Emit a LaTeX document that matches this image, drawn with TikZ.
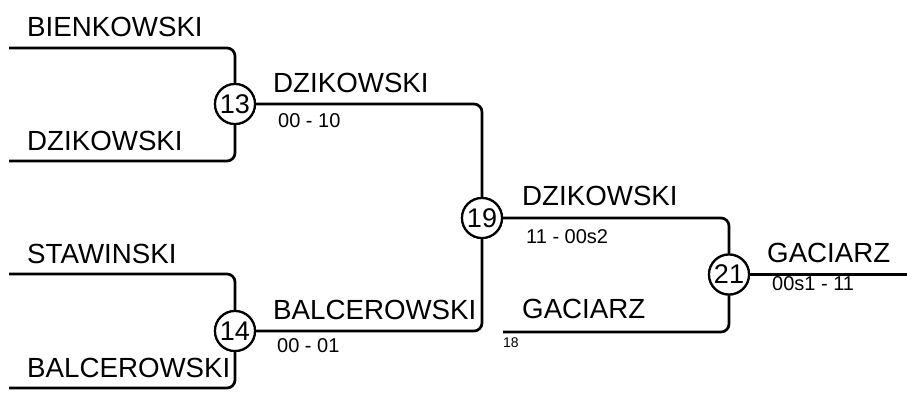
\documentclass[tikz,border=0pt]{standalone}
\usepackage{fontspec}
\setmainfont{Liberation Sans}
\usetikzlibrary{positioning}

\begin{document}
\begin{tikzpicture}[
    x=1pt, y=-1pt,
    bracket/.style={line width=2.7pt, rounded corners=8pt},
    match/.style={circle, draw, fill=white, line width=2.2pt, minimum size=40pt, inner sep=0pt, font=\fontsize{27}{27}\selectfont},
    player/.style={anchor=base west, inner sep=0pt, font=\fontsize{27.7}{30}\selectfont},
    score/.style={anchor=base west, inner sep=0pt, font=\fontsize{20}{22}\selectfont},
    seed/.style={anchor=base west, inner sep=0pt, font=\fontsize{14}{16}\selectfont},
]
\useasboundingbox (0,0) rectangle (907,392);

% === Partidos ===
\node[match] (m13) at (235,104) {13};
\node[match] (m14) at (235,331) {14};
\node[match] (m19) at (482,218) {19};
\node[match] (m21) at (729,274.5) {21};

% Extremos libres
\coordinate (bienkowski) at (9,48);
\coordinate (dzikowski) at (9,161);
\coordinate (stawinski) at (9,274);
\coordinate (balcerowski) at (9,388);
\coordinate (gaciarz) at (503,332);
\coordinate (final) at (907,274.5);

% === Líneas del cuadro ===
\draw[bracket] (bienkowski) -| (m13.north);
\draw[bracket] (dzikowski) -| (m13.south);
\draw[bracket] (stawinski) -| (m14.north);
\draw[bracket] (balcerowski) -| (m14.south);
\draw[bracket] (m13.east) -| (m19.north);
\draw[bracket] (m14.east) -| (m19.south);
\draw[bracket] (m19.east) -| (m21.north);
\draw[bracket] (gaciarz) -| (m21.south);
\draw[bracket] (m21.east) -- (final);

% Redibujar círculos encima
\node[match] at (m13) {13};
\node[match] at (m14) {14};
\node[match] at (m19) {19};
\node[match] at (m21) {21};

% === Nombres ===
\node[player] (p1) at (27,36) {BIENKOWSKI};
\node[player] (p2) at (27,150) {DZIKOWSKI};
\node[player] (p3) at (27,263) {STAWINSKI};
\node[player] (p4) at (27,377) {BALCEROWSKI};
\node[player] (w13) at (273,92) {DZIKOWSKI};
\node[player] (w14) at (273,319) {BALCEROWSKI};
\node[player] (w19) at (522,205) {DZIKOWSKI};
\node[player] (p18) at (522,318) {GACIARZ};
\node[player] (w21) at (767,262) {GACIARZ};

% === Resultados ===
\node[score] (s13) at (278,127) {00 - 10};
\node[score] (s14) at (277,352) {00 - 01};
\node[score] (s19) at (526,243) {11 - 00s2};
\node[score] (s21) at (772,290) {00s1 - 11};
\node[seed] (n18) at (503,347) {18};

\end{tikzpicture}
\end{document}
